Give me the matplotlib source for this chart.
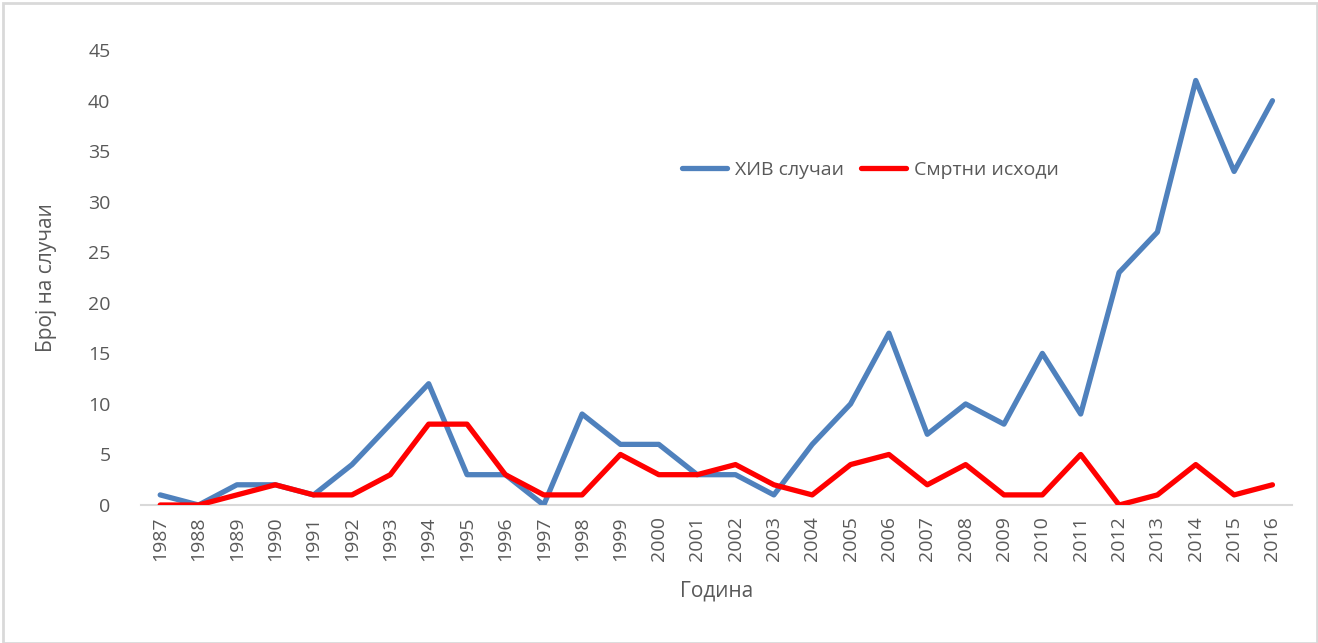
import matplotlib
matplotlib.use("Agg")
import matplotlib.pyplot as plt
from matplotlib.patches import Rectangle

# HIV cases and deaths per year
years = list(range(1987, 2017))
hiv_cases = [1, 0, 2, 2, 1, 4, 8, 12, 3, 3, 0, 9, 6, 6, 3, 3, 1, 6, 10, 17,
             7, 10, 8, 15, 9, 23, 27, 42, 33, 40]
deaths = [0, 0, 1, 2, 1, 1, 3, 8, 8, 3, 1, 1, 5, 3, 3, 4, 2, 1, 4, 5,
          2, 4, 1, 1, 5, 0, 1, 4, 1, 2]
y_ticks = [0, 5, 10, 15, 20, 25, 30, 35, 40, 45]

plt.rcParams['font.family'] = ['Open Sans', 'DejaVu Sans']
text_col = "#595959"

fig = plt.figure(figsize=(13.18, 6.43), dpi=100)
ax = fig.add_axes([0.107, 0.2146, 0.873, 0.7074])

x = range(len(years))
ax.plot(x, hiv_cases, color="#4F81BD", lw=3.8, solid_joinstyle="round",
        solid_capstyle="round", label="ХИВ случаи")
ax.plot(x, deaths, color="#FF0000", lw=3.8, solid_joinstyle="round",
        solid_capstyle="round", label="Смртни исходи")

ax.set_xlim(-0.5, len(years) - 0.5)
ax.set_ylim(0, 45)
ax.set_yticks(y_ticks)
ax.set_xticks(list(x))
ax.set_xticklabels([str(y) for y in years], rotation=90)
ax.tick_params(axis="both", length=0, colors=text_col, labelsize=14)
ax.tick_params(axis="y", pad=22)
ax.tick_params(axis="x", pad=8)

for s in ["top", "right", "left"]:
    ax.spines[s].set_visible(False)
ax.spines["bottom"].set_color("#D9D9D9")
ax.spines["bottom"].set_linewidth(1.5)
ax.spines["bottom"].set_zorder(0)

ax.set_ylabel("Број на случаи", fontsize=15, color=text_col, labelpad=22)
ax.set_xlabel("Година", fontsize=15, color=text_col, labelpad=14)

ax.legend(loc="center", bbox_to_anchor=(0.634, 0.736), ncol=2, frameon=False,
          fontsize=14, labelcolor=text_col, handlelength=2.3, columnspacing=0.9,
          handletextpad=0.4)

# thin frame around the chart area
fig.patches.append(Rectangle((0.002, 0.0), 0.997, 0.995, transform=fig.transFigure,
                             fill=False, edgecolor="#D9D9D9", lw=2))

fig.savefig("out.png", dpi=100)
